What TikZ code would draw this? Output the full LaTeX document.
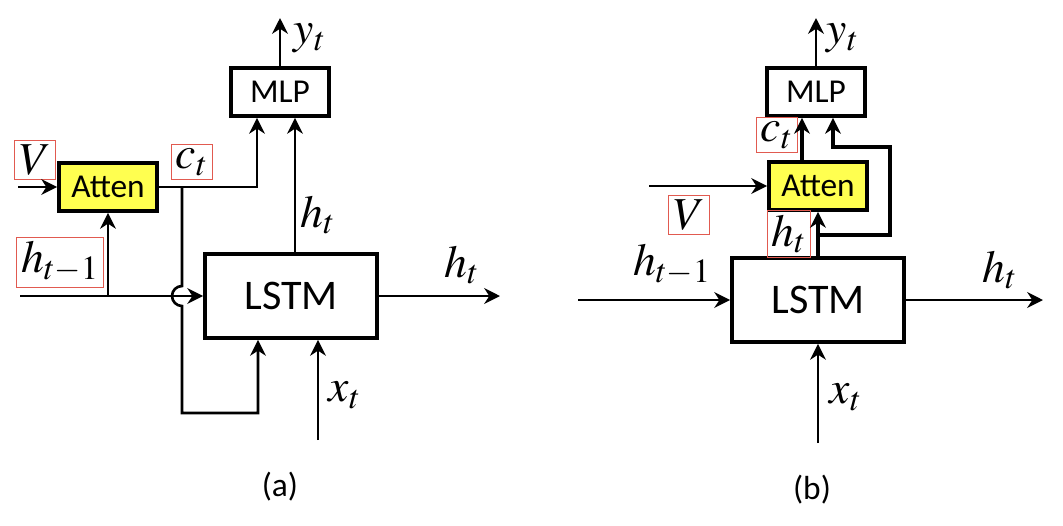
\documentclass[tikz,border=0pt]{standalone}
\usepackage[no-math]{fontspec}
\usepackage{mathptmx}
\setmainfont{Liberation Serif}
\setsansfont{Carlito}
\usetikzlibrary{arrows.meta,positioning,calc}

\definecolor{attyellow}{RGB}{255,255,80}
\definecolor{labred}{RGB}{225,90,80}

\tikzset{
  box/.style={draw, line width=2.2pt, inner sep=0pt, font=\sffamily\fontsize{19}{21}\selectfont},
  mlpbox/.style={box, minimum width=1.96cm, minimum height=0.96cm},
  attbox/.style={box, fill=attyellow, minimum width=1.96cm, minimum height=0.96cm},
  lstmbox/.style={box, minimum width=3.44cm, minimum height=1.68cm, font=\sffamily\fontsize{24}{26}\selectfont},
  lab/.style={inner sep=1pt, font=\fontsize{26}{28}\selectfont},
  redlab/.style={lab, draw=labred, line width=0.5pt, inner sep=2.5pt},
  subcap/.style={font=\sffamily\fontsize{19}{21}\selectfont},
  wire/.style={line width=1.5pt},
  flow/.style={wire, -{Stealth[length=9pt,width=9pt]}},
  thickflow/.style={flow, line width=2pt},
}

\begin{document}
\begin{tikzpicture}[x=0.02cm, y=-0.02cm]
\useasboundingbox (0,0) rectangle (1063,525);

% ---------- (a) ----------
\node[mlpbox]  (mlpA)  at (280,92)  {MLP};
\node[attbox]  (attA)  at (108,187) {Atten};
\node[lstmbox] (lstmA) at (291,296) {LSTM};

\coordinate (vinA)  at (18,187);
\coordinate (hinA)  at (20,296);
\coordinate (xinA)  at (318,440);
\coordinate (youtA) at (280,18);
\coordinate (houtA) at (500,296);
\coordinate (ctA)   at (182,187);

% labels
\node[redlab] (VA)   at (35,160)  {$V$};
\node[redlab] (ctlA) at (192,162) {$c_t$};
\node[redlab] (hmA)  at (60,262)  {$h_{t-1}$};
\node[lab]    (htA)  at (318,215) {$h_t$};
\node[lab]    (hoA)  at (462,265) {$h_t$};
\node[lab]    (xtA)  at (345,395) {$x_t$};
\node[lab]    (ytA)  at (310,38)  {$y_t$};
\node[subcap] (capA) at (280,487) {(a)};

% connectors
\draw[flow] (vinA) -- (attA.west);
\draw[flow] (attA.east) -| ($(mlpA.south)+(-23,0)$);
\draw[flow] (hinA) -- (lstmA.west);
\draw[flow] (attA.south |- hinA) -- (attA.south);
\draw[flow] ($(lstmA.north)+(4,0)$) -- ($(mlpA.south)+(15,0)$);
\draw[flow] (mlpA.north) -- (youtA);
\draw[flow] (lstmA.east) -- (houtA);
\draw[flow] (xinA) -- (xinA |- lstmA.south);
\draw[flow] (ctA) -- (182,286) arc[start angle=90, end angle=270, radius=0.2cm]
  -- (182,413) -| ($(lstmA.south)+(-33,0)$);

% ---------- (b) ----------
\node[mlpbox]  (mlpB)  at (816,92)  {MLP};
\node[attbox]  (attB)  at (818,186) {Atten};
\node[lstmbox] (lstmB) at (818,300) {LSTM};

\coordinate (vinB)  at (649,186);
\coordinate (hinB)  at (578,300);
\coordinate (xinB)  at (818,443);
\coordinate (youtB) at (816,18);
\coordinate (houtB) at (1043,300);
\coordinate (brB)   at (818,235);
\coordinate (loopB) at (890,147);

% labels
\node[redlab] (ctlB) at (777,135) {$c_t$};
\node[redlab] (htlB) at (789,234) {$h_t$};
\node[redlab] (VB)   at (689,215) {$V$};
\node[lab]    (hmB)  at (672,265) {$h_{t-1}$};
\node[lab]    (hoB)  at (1000,270) {$h_t$};
\node[lab]    (xtB)  at (846,397) {$x_t$};
\node[lab]    (ytB)  at (843,38)  {$y_t$};
\node[subcap] (capB) at (812,490) {(b)};

% connectors
\draw[flow] (vinB) -- (attB.west);
\draw[flow] (hinB) -- (lstmB.west);
\draw[flow] (lstmB.east) -- (houtB);
\draw[flow] (xinB) -- (lstmB.south);
\draw[flow] (mlpB.north) -- (youtB);
\draw[thickflow] ($(attB.north)+(-16,0)$) -- ($(mlpB.south)+(-14,0)$);
\draw[thickflow] (lstmB.north) -- (attB.south);
\draw[thickflow] (brB) -- (loopB |- brB) -- (loopB) -| ($(mlpB.south)+(17,0)$);
\end{tikzpicture}
\end{document}
